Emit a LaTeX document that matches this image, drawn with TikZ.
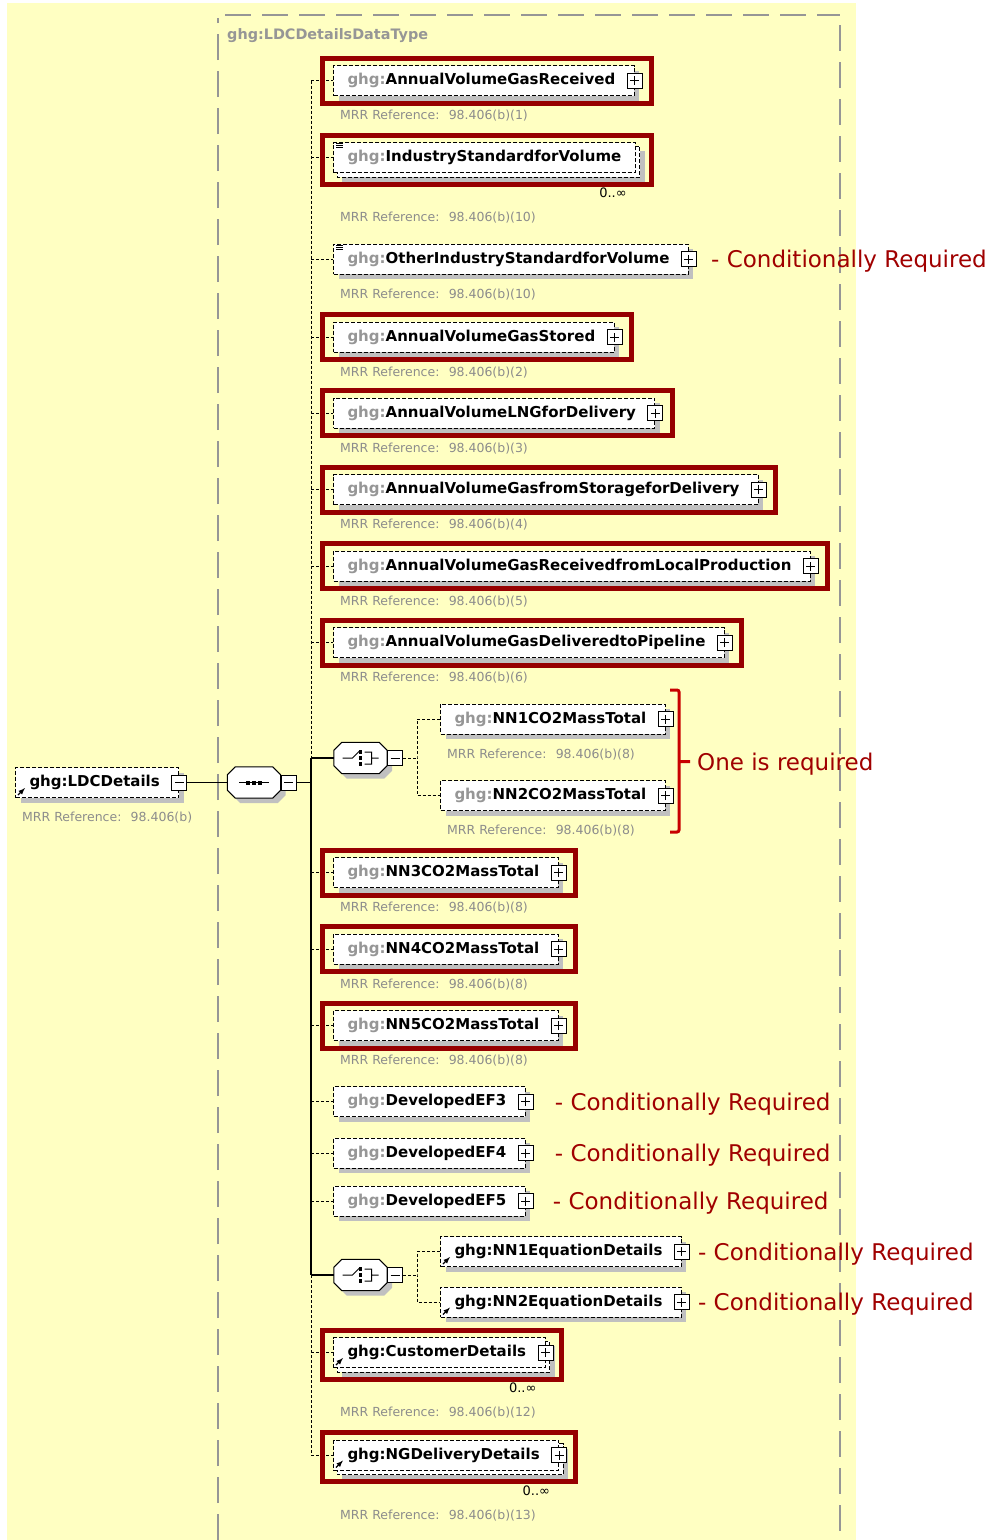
\documentclass[tikz,border=0pt]{standalone}
\usepackage{fontspec}
\setmainfont{DejaVu Sans}
\usetikzlibrary{positioning,shadows}
\definecolor{bgyellow}{RGB}{255,255,194}
\definecolor{framegray}{RGB}{150,150,150}
\definecolor{ghggray}{RGB}{150,150,150}
\definecolor{mrrgray}{RGB}{140,140,140}
\definecolor{shadowgray}{RGB}{192,192,192}
\definecolor{boxred}{RGB}{150,0,0}
\definecolor{notered}{RGB}{160,0,0}
\definecolor{brkred}{RGB}{200,0,0}
\pgfdeclarelayer{bg}
\pgfdeclarelayer{back}
\pgfsetlayers{bg,back,main}

\begin{document}
\begin{tikzpicture}[x=1pt, y=-1pt, node distance=14pt and 7pt, semithick,
box/.style={rectangle, draw, dash pattern=on 4pt off 2pt, line width=1pt, fill=white, anchor=west, minimum height=30pt, inner xsep=14pt, inner ysep=0pt, font=\fontsize{15}{17}\selectfont\bfseries},
shd/.style={drop shadow={shadow xshift=5pt, shadow yshift=-5pt, fill=shadowgray, opacity=1}},
pfx/.style={execute at begin node={\textcolor{ghggray}{ghg:}}},
xp/.style={execute at end node={\kern5pt}},
elem/.style={box, shd, pfx, xp},
ref/.style={box, shd, xp},
stack/.style={draw, dash pattern=on 4pt off 2pt, line width=1pt, fill=white, shd},
icon/.style={rectangle, draw, fill=white, line width=1pt, minimum size=15pt, inner sep=0pt},
plus/.style={icon, path picture={\draw ([xshift=-4.5pt]path picture bounding box.center) -- ([xshift=4.5pt]path picture bounding box.center) ([yshift=-4.5pt]path picture bounding box.center) -- ([yshift=4.5pt]path picture bounding box.center);}},
minus/.style={icon, path picture={\draw ([xshift=-4.5pt]path picture bounding box.center) -- ([xshift=4.5pt]path picture bounding box.center);}},
comp/.style={rectangle, minimum width=53pt, minimum height=31pt, inner sep=0pt},
oct/.style={draw, fill=white, line width=1pt, shd},
mrr/.style={font=\fontsize{12.5}{14}\selectfont, text=mrrgray, inner sep=0pt},
card/.style={font=\fontsize{13}{15}\selectfont, inner sep=0pt},
note/.style={font=\fontsize{23}{26}\selectfont, text=notered, inner sep=0pt, text depth=0pt},
title/.style={font=\fontsize{14.4}{17}\selectfont\bfseries, text=framegray, inner sep=0pt, anchor=west},
req/.style={draw=boxred, line width=5pt},
brk/.style={draw=brkred, line width=3pt, rounded corners=2pt},
conn/.style={dash pattern=on 3pt off 2pt, line width=1pt},
link/.style={line width=1.2pt},
frame/.style={draw=framegray, line width=1.5pt, dash pattern=on 26pt off 11pt}]
\useasboundingbox (0,0) rectangle (994,1540);
\begin{pgfonlayer}{bg}
\fill[bgyellow] (7,3) rectangle (856,1540);
\draw[frame] (218,1540) -- (218,18) (225,15) -- (840,15) (840,25) -- (840,1540);
\end{pgfonlayer}

\node[title] (T) at (227,36) {ghg:LDCDetailsDataType};

\node[ref] (LDC) at (15,782.5) {ghg:LDCDetails};
\node[comp] (SEQ) at (254,782.5) {};
\node[comp] (CH1) at (360.5,758) {};
\node[comp] (CH2) at (360.5,1275) {};

\node[elem] (E1) at (333,80.5) {AnnualVolumeGasReceived};
\node[box, pfx] (E2) at (333,157.5) {IndustryStandardforVolume};
\node[elem] (E3) at (333,259) {OtherIndustryStandardforVolume};
\node[elem] (E4) at (333,337) {AnnualVolumeGasStored};
\node[elem] (E5) at (333,413) {AnnualVolumeLNGforDelivery};
\node[elem] (E6) at (333,489.5) {AnnualVolumeGasfromStorageforDelivery};
\node[elem] (E7) at (333,566) {AnnualVolumeGasReceivedfromLocalProduction};
\node[elem] (E8) at (333,642.5) {AnnualVolumeGasDeliveredtoPipeline};
\node[elem] (N1) at (440,719) {NN1CO2MassTotal};
\node[elem] (N2) at (440,795.5) {NN2CO2MassTotal};
\node[elem] (E9) at (333,872.5) {NN3CO2MassTotal};
\node[elem] (E10) at (333,949) {NN4CO2MassTotal};
\node[elem] (E11) at (333,1025.5) {NN5CO2MassTotal};
\node[elem] (E12) at (333,1101.5) {DevelopedEF3};
\node[elem] (E13) at (333,1153) {DevelopedEF4};
\node[elem] (E14) at (333,1201) {DevelopedEF5};
\node[ref] (N3) at (440,1251.5) {ghg:NN1EquationDetails};
\node[ref] (N4) at (440,1302) {ghg:NN2EquationDetails};
\node[box, xp] (E15) at (333,1352.5) {ghg:CustomerDetails};
\node[box, xp] (E16) at (333,1455) {ghg:NGDeliveryDetails};

\begin{pgfonlayer}{back}
\foreach \n in {E2,E15,E16}
  \path[stack] ([shift={(4,4)}]\n.north west) rectangle ([shift={(4,4)}]\n.south east);
\end{pgfonlayer}

\foreach \c in {SEQ,CH1,CH2}
  \path[oct] ([xshift=8pt]\c.north west) -- ([xshift=-8pt]\c.north east) -- ([yshift=-8pt]\c.north east) -- ([yshift=8pt]\c.south east) -- ([xshift=-8pt]\c.south east) -- ([xshift=8pt]\c.south west) -- ([yshift=8pt]\c.south west) -- ([yshift=-8pt]\c.north west) -- cycle;

\node[minus] (LDCm) at (LDC.east) {};
\node[minus] (SEQm) [right=0pt of SEQ] {};
\node[minus] (CH1m) [right=0pt of CH1] {};
\node[minus] (CH2m) [right=0pt of CH2] {};
\foreach \n in {E1,E3,E4,E5,E6,E7,E8,N1,N2,E9,E10,E11,E12,E13,E14,N3,N4,E15,E16}
  \node[plus] (p\n) at (\n.east) {};

\node[mrr, below right=of LDC.south west] (mLDC) {MRR Reference:~ 98.406(b)};
\foreach \n/\r in {E1/1,E3/10,E4/2,E5/3,E6/4,E7/5,E8/6,N1/8,N2/8,E9/8,E10/8,E11/8}
  \node[mrr, below right=of \n.south west] (m\n) {MRR Reference:~ 98.406(b)(\r)};
\foreach \n/\r in {E2/10,E15/12,E16/13}
  \node[mrr, below right=39pt and 7pt of \n.south west] (m\n) {MRR Reference:~ 98.406(b)(\r)};
\foreach \n in {E2,E15,E16}
  \node[card, below left=15pt and 9pt of \n.south east] (k\n) {0..∞};

\foreach \n/\d in {E3/14,E12/21,E13/21,E14/19,N3/8,N4/8}
  \node[note, right=\d pt of p\n] (c\n) {- Conditionally Required};
\coordinate (B1) at (690,761.5);
\node[note, right=7pt of B1] (One) {One is required};

\coordinate (S0) at (311,80.5);
\coordinate (S1) at (311,758);
\coordinate (S2) at (311,1275);
\coordinate (S3) at (311,1455);
\coordinate (J1) at (417,758);
\coordinate (J2) at (417,1275);

\draw[link] (LDCm) -- (SEQ);
\draw[link] (SEQm) -- (SEQm -| S0);
\draw[conn] (S0) -- (S1);
\draw[link] (S1) -- (S2) (S1) -- (CH1) (S2) -- (CH2);
\draw[conn] (S2) -- (S3);
\foreach \n in {E1,E2,E3,E4,E5,E6,E7,E8,E9,E10,E11,E12,E13,E14,E15,E16}
  \draw[conn] (\n.west -| S0) -- (\n.west);
\draw[conn] (CH1m) -- (J1) (N1.west) -| (J1) |- (N2.west);
\draw[conn] (CH2m) -- (J2) (N3.west) -| (J2) |- (N4.west);

\draw[line width=1pt] (SEQ.center) +(-15,0) -- +(15,0);
\foreach \d in {-6,0,6}
  \fill ([xshift=\d pt]SEQ.center) +(-2,-2) rectangle +(2,2);
\foreach \c in {CH1,CH2} {
  \draw[line width=1pt] (\c.center) +(-18,0) -- +(-8,0) -- +(-1,-7) +(4,-6) -- +(11,-6) -- +(11,6) -- +(4,6) +(11,0) -- +(18,0);
  \foreach \d in {-6,0,6}
    \fill ([yshift=\d pt]\c.center) +(-1.7,-1.7) rectangle +(1.7,1.7);
}

\foreach \n in {E2,E3}
  \foreach \d in {1.5,3.5,5.5}
    \draw[line width=0.8pt] ([shift={(3,\d)}]\n.north west) -- +(7,0);
\foreach \n in {LDC,N3,N4,E15,E16}
  \draw[-latex, line width=1.3pt] ([shift={(3,-3)}]\n.south west) -- +(7,-7);

\foreach \n in {E1,E4,E5,E6,E7,E8,E9,E10,E11}
  \draw[req] ([shift={(-11,-7)}]\n.north west) rectangle ([shift={(17,7)}]\n.south east);
\foreach \n in {E2,E15,E16}
  \draw[req] ([shift={(-11,-7)}]\n.north west) rectangle ([shift={(16,11)}]\n.south east);
\draw[brk] (670,690) -- (679,690) -- (679,832) -- (670,832) (679,761.5) -- (B1);
\end{tikzpicture}
\end{document}
